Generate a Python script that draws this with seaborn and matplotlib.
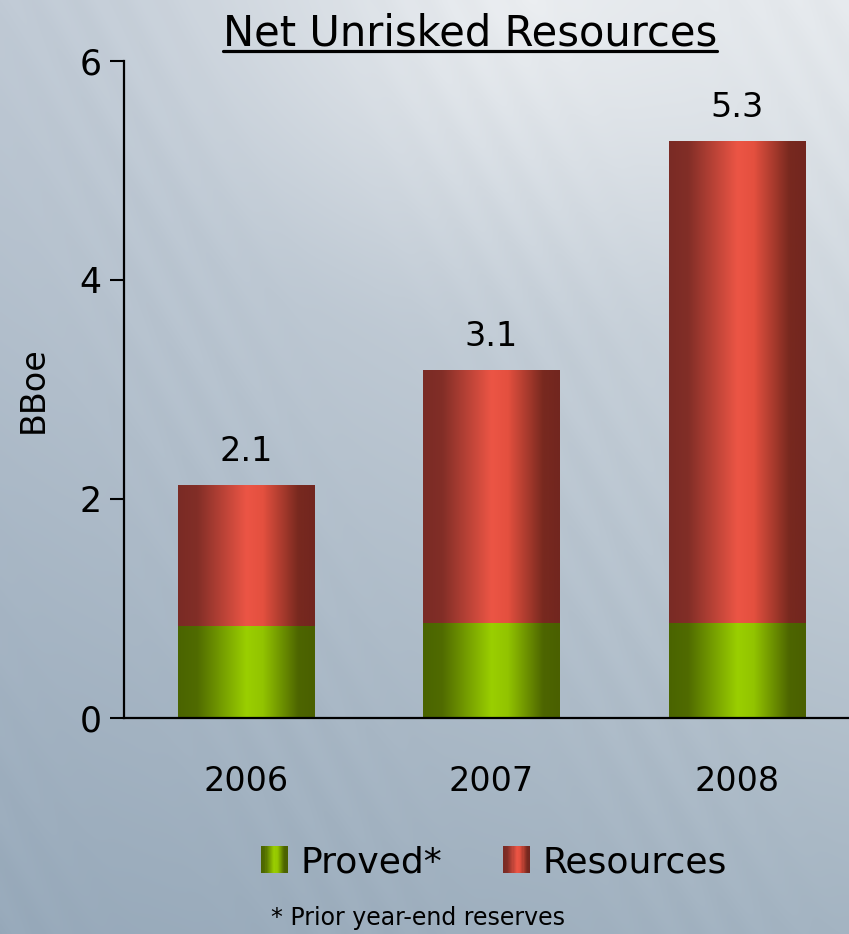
import numpy as np
import pandas as pd
import matplotlib
matplotlib.use("Agg")
import matplotlib.pyplot as plt
import seaborn as sns
from matplotlib.colors import LinearSegmentedColormap, to_rgb
from matplotlib.patches import Patch, Rectangle
from matplotlib.legend_handler import HandlerBase
from matplotlib.lines import Line2D

# Values (BBoe)
years = ["2006", "2007", "2008"]
proved = [0.84, 0.87, 0.87]
totals = [2.13, 3.18, 5.27]
total_labels = ["2.1", "3.1", "5.3"]
series = ["Proved*", "Resources"]

GREEN = "#99cc00"
RED = "#ec5444"
green_cmap = LinearSegmentedColormap.from_list(
    "green", [(0, "#4a6400"), (0.14, "#506b00"), (0.5, "#9acf00"), (0.62, "#92c400"), (0.88, "#4d6500"), (1, "#4a6000")]
)
red_cmap = LinearSegmentedColormap.from_list(
    "red", [(0, "#7a2b25"), (0.14, "#822e27"), (0.5, "#ec5545"), (0.62, "#e4503f"), (0.88, "#78291f"), (1, "#72261f")]
)


class GradientHandler(HandlerBase):
    # legend square filled with thin stripes so it looks shaded like the bars
    def __init__(self, cmap):
        super().__init__()
        self.cmap = cmap

    def create_artists(self, legend, orig_handle, xdescent, ydescent, width, height, fontsize, trans):
        n = 24
        step = width / n
        out = []
        for i in range(n):
            r = Rectangle(
                (-xdescent + i * step, -ydescent),
                step * 1.05,
                height,
                facecolor=self.cmap((i + 0.5) / n),
                linewidth=0,
                transform=trans,
            )
            out.append(r)
        return out


def shade(ax, bar, cmap, z):
    x0, y0 = bar.get_x(), bar.get_y()
    w, h = bar.get_width(), bar.get_height()
    grad = np.linspace(0, 1, 256).reshape(1, -1)
    im = ax.imshow(
        grad,
        cmap=cmap,
        extent=(x0, x0 + w, y0, y0 + h),
        aspect="auto",
        interpolation="bilinear",
        zorder=z,
    )
    im.set_clip_path(bar)


def background(fig):
    bg = fig.add_axes([0, 0, 1, 1], zorder=-10)
    ny, nx = 400, 380
    yy, xx = np.mgrid[0:1:ny * 1j, 0:1:nx * 1j]
    tl, tr = np.array(to_rgb("#c0cad5")), np.array(to_rgb("#e4e8ec"))
    bl, br = np.array(to_rgb("#97a9ba")), np.array(to_rgb("#a4b4c2"))
    img = (
        (1 - xx)[..., None] * (1 - yy)[..., None] * tl
        + xx[..., None] * (1 - yy)[..., None] * tr
        + (1 - xx)[..., None] * yy[..., None] * bl
        + xx[..., None] * yy[..., None] * br
    )
    d = np.sqrt(((xx - 0.62) / 0.55) ** 2 + (yy / 0.38) ** 2)
    glow = np.clip(1 - d, 0, 1)[..., None] ** 1.5
    img = img * (1 - glow * 0.8) + np.array(to_rgb("#f0f2f4")) * glow * 0.8
    # faint steep streaks running top-left to bottom-right
    phase = xx * 0.87 - yy * 0.5
    streak = 0.006 * np.sin(phase * 140) * (0.5 + 0.5 * np.sin(phase * 17 + yy * 4))
    img = np.clip(img + streak[..., None], 0, 1)
    bg.imshow(img, extent=(0, 1, 0, 1), aspect="auto", interpolation="bilinear")
    bg.set_axis_off()


sns.set_style("ticks")
plt.rcParams["font.family"] = ["DejaVu Sans"]
plt.rcParams["text.color"] = "black"
plt.rcParams["axes.labelcolor"] = "black"
plt.rcParams["xtick.color"] = "black"
plt.rcParams["ytick.color"] = "black"

fig = plt.figure(figsize=(8.49, 9.34), dpi=100)
background(fig)
ax = fig.add_axes([0.146, 0.2313, 0.854, 0.7034])
ax.patch.set_alpha(0)

df = pd.DataFrame({"year": years, "proved": proved, "total": totals})
sns.barplot(data=df, x="year", y="total", color=RED, width=0.554, saturation=1, linewidth=0, ax=ax)
sns.barplot(data=df, x="year", y="proved", color=GREEN, width=0.554, saturation=1, linewidth=0, ax=ax)

for bar in ax.containers[0]:
    shade(ax, bar, red_cmap, 3)
for bar in ax.containers[1]:
    shade(ax, bar, green_cmap, 4)

ax.bar_label(ax.containers[0], labels=total_labels, padding=12, fontsize=24, zorder=6, color="black")

ax.set_xlim(-0.497, 2.456)
ax.set_ylim(0, 6)
ax.set_yticks([0, 2, 4, 6])
ax.set_xlabel("")
ax.set_ylabel("BBoe", fontsize=24)
ax.yaxis.set_label_coords(-0.102, 0.5)
ax.tick_params(axis="y", labelsize=25, length=10, width=1.5, direction="out", pad=6, color="black", labelcolor="black")
ax.tick_params(axis="x", labelsize=24, length=0, pad=34, labelcolor="black")
for s in ["top", "right"]:
    ax.spines[s].set_visible(False)
for s in ["left", "bottom"]:
    ax.spines[s].set_color("black")
    ax.spines[s].set_linewidth(1.6)
    ax.spines[s].set_zorder(7)

handles = [Patch(color=GREEN), Patch(color=RED)]
fig.legend(
    handles,
    series,
    loc="center",
    bbox_to_anchor=(0.582, 0.077),
    ncol=2,
    frameon=False,
    fontsize=26,
    labelcolor="black",
    handlelength=0.74,
    handleheight=0.74,
    handletextpad=0.35,
    columnspacing=1.7,
    handler_map={handles[0]: GradientHandler(green_cmap), handles[1]: GradientHandler(red_cmap)},
)

title = fig.text(0.5536, 0.9518, "Net Unrisked Resources", ha="center", va="baseline", fontsize=30, color="black")
fig.text(0.492, 0.017, "* Prior year-end reserves", ha="center", va="center", fontsize=17, color="black")

# underline the title
fig.canvas.draw()
bb = title.get_window_extent().transformed(fig.transFigure.inverted())
fig.add_artist(Line2D([bb.x0, bb.x1], [0.9449, 0.9449], color="black", linewidth=2.3, transform=fig.transFigure))

fig.savefig("out.png", dpi=100)
